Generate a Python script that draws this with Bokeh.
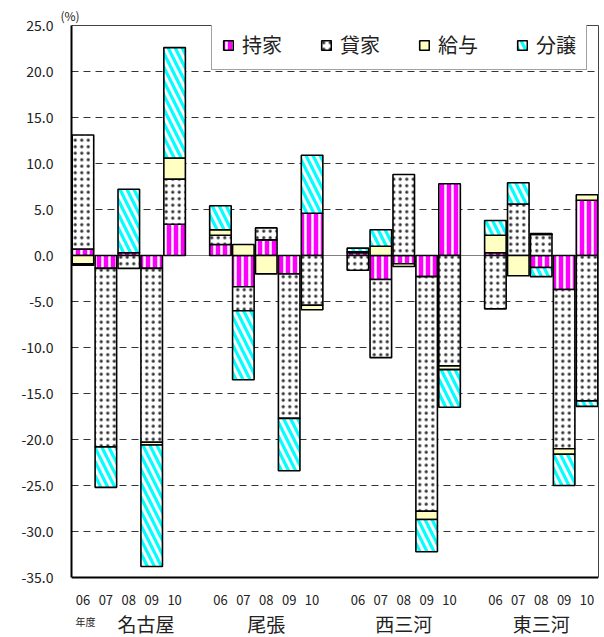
from bokeh.plotting import figure
from bokeh.models import (Range1d, FixedTicker, NumeralTickFormatter, Label,
                          Legend, LegendItem, ColumnDataSource, Span, LinearAxis)
from bokeh.embed import file_html
from bokeh.resources import INLINE

# Areas and fiscal years (年度)
regions = ["名古屋", "尾張", "西三河", "東三河"]
years = ["06", "07", "08", "09", "10"]
series_names = ["持家", "貸家", "給与", "分譲"]

# Contribution to the change in housing starts (%), per area x year
mochiie = [0.7, -1.4, 0.3, -1.4, 3.4,
           1.2, -3.4, 1.7, -2.0, 4.6,
           0.3, -2.6, -0.9, -2.3, 7.8,
           0.3, 0.0, -1.3, -3.7, 6.0]
kashiya = [12.4, -19.4, -1.4, -18.9, 4.9,
           1.0, -2.6, 1.3, -15.7, -5.4,
           -1.6, -8.5, 8.8, -25.5, -12.0,
           -5.8, 5.6, 2.3, -17.3, -15.8]
kyuyo = [-0.9, 0.0, 0.0, -0.3, 2.3,
         0.6, 1.2, -2.0, 0.0, -0.5,
         0.1, 1.0, -0.3, -0.9, -0.4,
         1.9, -2.2, 0.1, -0.6, 0.6]
bunjo = [-0.15, -4.4, 6.9, -13.2, 12.0,
         2.6, -7.5, 0.0, -5.7, 6.3,
         0.4, 1.8, 0.0, -3.5, -4.1,
         1.6, 2.3, -1.0, -3.4, -0.6]

y_ticks = [-35, -30, -25, -20, -15, -10, -5, 0, 5, 10, 15, 20, 25]
y_min, y_max = -35, 25

# one empty slot between areas
xpos = [g * 6 + i for g in range(len(regions)) for i in range(len(years))]

# the frame runs down to the bottom of the canvas so that the area
# names under the axis can be drawn inside it
p = figure(width=604, height=637, output_backend="svg", toolbar_location=None,
           x_range=Range1d(-0.5, 22.5), y_range=Range1d(-41.52, y_max),
           min_border_left=71, min_border_right=6, min_border_top=25,
           min_border_bottom=0)
p.background_fill_color = "white"
p.border_fill_color = "white"
p.outline_line_color = None

styles = [
    dict(fill_color="#FF00FF", hatch_pattern="vertical_line", hatch_color="white",
         hatch_weight=2.5, hatch_scale=7),
    dict(fill_color="white", hatch_pattern="dot", hatch_color="#333333",
         hatch_weight=1.8, hatch_scale=6.5),
    dict(fill_color="#FFFFC4"),
    dict(fill_color="white", hatch_pattern="left_diagonal_line", hatch_color="#00FFFF",
         hatch_weight=3.2, hatch_scale=14),
]

# stack positives upward and negatives downward, in series order
pos = [0.0] * len(xpos)
neg = [0.0] * len(xpos)
renderers = []
for name, vals, st in zip(series_names, [mochiie, kashiya, kyuyo, bunjo], styles):
    xs, tops, bottoms = [], [], []
    for k, v in enumerate(vals):
        if v == 0:
            continue
        if v > 0:
            b = pos[k]
            t = b + v
            pos[k] = t
        else:
            t = neg[k]
            b = t + v
            neg[k] = b
        xs.append(xpos[k])
        tops.append(t)
        bottoms.append(b)
    src = ColumnDataSource(dict(x=xs, top=tops, bottom=bottoms))
    r = p.vbar(x="x", top="top", bottom="bottom", width=0.94, source=src,
               line_color="black", line_width=1.6, **st)
    renderers.append(r)

# zero line
p.add_layout(Span(location=0, dimension="width", line_color="#808080",
                  line_width=1, level="underlay"))

# grid: dashed, only the interior values
p.xgrid.visible = False
p.ygrid.ticker = FixedTicker(ticks=[t for t in y_ticks if t not in (y_min, 0, y_max)])
p.ygrid.grid_line_color = "#333333"
p.ygrid.grid_line_dash = "7 5"
p.ygrid.grid_line_width = 1

font = "Noto Sans CJK JP"

p.yaxis.ticker = FixedTicker(ticks=y_ticks)
p.yaxis.bounds = (y_min, y_max)
p.yaxis.formatter = NumeralTickFormatter(format="0.0")
p.yaxis.major_label_text_font = font
p.yaxis.major_label_text_font_size = "14px"
p.yaxis.major_label_text_color = "#222222"
p.yaxis.major_tick_out = 0
p.yaxis.major_tick_in = 0
p.yaxis.minor_tick_line_color = None
p.yaxis.major_label_standoff = 18
p.yaxis.axis_line_color = "black"
p.yaxis.axis_line_width = 2

p.xaxis.fixed_location = y_min
p.xaxis.ticker = FixedTicker(ticks=xpos)
p.xaxis.major_label_overrides = {x: years[i % 5] for i, x in enumerate(xpos)}
p.xaxis.major_label_text_font = font
p.xaxis.major_label_text_font_size = "13px"
p.xaxis.major_label_text_color = "#222222"
p.xaxis.major_tick_out = 0
p.xaxis.major_tick_in = 0
p.xaxis.minor_tick_line_color = None
p.xaxis.major_label_standoff = 17
p.xaxis.axis_line_color = "black"
p.xaxis.axis_line_width = 2

# thin border on the top and right of the plotting area
top_border = LinearAxis(ticker=FixedTicker(ticks=[]), major_tick_out=0, major_tick_in=0,
                        minor_tick_out=0, minor_tick_in=0, major_label_standoff=0,
                        major_label_text_font_size="0px",
                        axis_line_color="#444444", axis_line_width=1)
p.add_layout(top_border, "above")
right_border = LinearAxis(ticker=FixedTicker(ticks=[]), bounds=(y_min, y_max),
                          major_tick_out=0, major_tick_in=0,
                          minor_tick_out=0, minor_tick_in=0, major_label_standoff=0,
                          major_label_text_font_size="0px",
                          axis_line_color="#444444", axis_line_width=1)
p.add_layout(right_border, "right")

# unit
p.title.text = "(%)"
p.title.align = "left"
p.title.offset = -11
p.title.standoff = 3
p.title.text_font = font
p.title.text_font_size = "12px"
p.title.text_font_style = "normal"
p.title.text_color = "#222222"

# year caption and area names
p.add_layout(Label(x=-0.33, y=-39.8, text="年度", text_font=font,
                   text_font_size="10px", text_baseline="middle", text_color="#222222"))
region_x = [2.75, 8, 14, 20]
for name, rx in zip(regions, region_x):
    p.add_layout(Label(x=rx, y=-40.0, text=name, text_font=font,
                       text_font_size="19px", text_align="center",
                       text_baseline="middle", text_color="#222222"))

legend = Legend(items=[LegendItem(label=n, renderers=[r]) for n, r in zip(series_names, renderers)],
                orientation="horizontal", location=(140, 567))
legend.label_text_font = font
legend.label_text_font_size = "20px"
legend.label_text_color = "#222222"
legend.glyph_width = 12
legend.glyph_height = 12
legend.label_standoff = 8
legend.spacing = 38
legend.padding = 10
legend.border_line_color = "#444444"
legend.border_line_width = 1
legend.background_fill_color = "white"
legend.background_fill_alpha = 1
p.add_layout(legend, "center")

open("out.html", "w").write(file_html(p, INLINE))
